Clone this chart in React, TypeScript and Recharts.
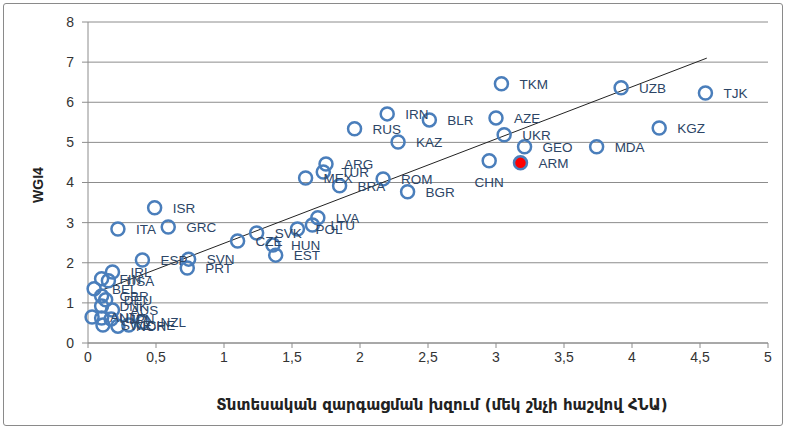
import { ScatterChart, Scatter, XAxis, YAxis, CartesianGrid, ReferenceLine } from "recharts";

// country codes and their coordinates
const countries = [
  "TKM", "UZB", "TJK", "IRN", "BLR", "AZE", "RUS", "UKR", "KAZ", "KGZ",
  "GEO", "MDA", "CHN", "ARM", "ARG", "TUR", "MEX", "BRA", "ROM", "BGR",
  "ISR", "ITA", "GRC", "LVA", "LTU", "POL", "SVK", "CZE", "HUN", "EST",
  "ESP", "SVN", "PRT", "IRL", "FIN", "USA", "BEL", "GBR", "DEU", "DNK",
  "AUS", "AUT", "NLD", "JPN", "SWE", "NOR", "CHE", "NZL",
];
const gapValues = [
  3.04, 3.92, 4.54, 2.2, 2.51, 3.0, 1.96, 3.06, 2.28, 4.2,
  3.21, 3.74, 2.95, 3.18, 1.75, 1.73, 1.6, 1.85, 2.17, 2.35,
  0.49, 0.22, 0.59, 1.69, 1.65, 1.54, 1.24, 1.1, 1.36, 1.38,
  0.4, 0.74, 0.73, 0.18, 0.1, 0.15, 0.045, 0.1, 0.13, 0.1,
  0.18, 0.03, 0.1, 0.17, 0.11, 0.22, 0.3, 0.4,
];
const wgiValues = [
  6.46, 6.36, 6.23, 5.71, 5.56, 5.61, 5.34, 5.19, 5.01, 5.36,
  4.89, 4.89, 4.54, 4.49, 4.46, 4.26, 4.11, 3.92, 4.09, 3.77,
  3.37, 2.84, 2.89, 3.12, 2.94, 2.84, 2.74, 2.54, 2.44, 2.19,
  2.07, 2.09, 1.87, 1.77, 1.6, 1.55, 1.35, 1.17, 1.08, 0.92,
  0.82, 0.65, 0.62, 0.6, 0.45, 0.42, 0.45, 0.52,
];
const highlighted = "ARM";

// linear trend endpoints
const trendStart = { x: 0.05, y: 1.25 };
const trendEnd = { x: 4.55, y: 7.1 };

const xTicks = [0, 0.5, 1, 1.5, 2, 2.5, 3, 3.5, 4, 4.5, 5];
const yTicks = [0, 1, 2, 3, 4, 5, 6, 7, 8];

const xTitle = "Տնտեսական զարգացման խզում (մեկ շնչի հաշվով ՀՆԱ)";
const yTitle = "WGI4";

const data = countries.map((name, i) => ({ name, x: gapValues[i], y: wgiValues[i] }));

const BLUE = "#4a7ebb";
const FONT = "'Liberation Sans', Arial, sans-serif";

const Marker = (props: any) => {
  const { cx, cy, payload } = props;
  const isHl = payload.name === highlighted;
  return (
    <circle cx={cx} cy={cy} r={6.5} fill={isHl ? "#ff0000" : "none"} stroke={BLUE} strokeWidth={2.5} />
  );
};

const PointLabel = (props: any) => {
  const { cx, cy, payload } = props;
  if (payload.name === "CHN") {
    return (
      <text x={cx} y={cy + 26} textAnchor="middle" fontSize={13.5} fontFamily={FONT} fill="#2c4566">
        {payload.name}
      </text>
    );
  }
  return (
    <text x={cx + 18} y={cy + 5} fontSize={13.5} fontFamily={FONT} fill="#2c4566">
      {payload.name}
    </text>
  );
};

export default function App() {
  return (
    <div
      style={{
        position: "absolute",
        left: 3,
        top: 3,
        width: 780,
        height: 423,
        boxSizing: "border-box",
        border: "1px solid #8a8a8a",
        borderRadius: 3,
        background: "#fff",
      }}
    >
      <ScatterChart width={778} height={421} margin={{ top: 18, right: 14, left: 0, bottom: 12 }}>
        <CartesianGrid vertical={false} stroke="#8c8c8c" />
        <XAxis
          type="number"
          dataKey="x"
          domain={[0, 5]}
          ticks={xTicks}
          tickFormatter={(v) => String(v).replace(".", ",")}
          stroke="#8c8c8c"
          tickSize={5}
          tickMargin={4}
          height={70}
          tick={{ fontSize: 14, fill: "#333", fontFamily: FONT }}
          label={() => (
            <text
              x={438}
              y={406}
              textAnchor="middle"
              fontSize={15}
              fontWeight="bold"
              fontFamily="'DejaVu Sans', sans-serif"
              fill="#222"
            >
              {xTitle}
            </text>
          )}
        />
        <YAxis
          type="number"
          dataKey="y"
          domain={[0, 8]}
          ticks={yTicks}
          width={84}
          stroke="#8c8c8c"
          tickSize={6}
          tickMargin={8}
          tick={{ fontSize: 14, fill: "#333", fontFamily: FONT }}
          label={() => (
            <text
              x={39}
              y={181}
              transform="rotate(-90 39 181)"
              textAnchor="middle"
              fontSize={14}
              fontWeight="bold"
              fontFamily={FONT}
              fill="#222"
            >
              {yTitle}
            </text>
          )}
        />
        <Scatter data={data} shape={Marker} isAnimationActive={false} />
        <ReferenceLine segment={[trendStart, trendEnd]} stroke="#222" strokeWidth={1} />
        <Scatter data={data} shape={PointLabel} isAnimationActive={false} />
      </ScatterChart>
    </div>
  );
}
